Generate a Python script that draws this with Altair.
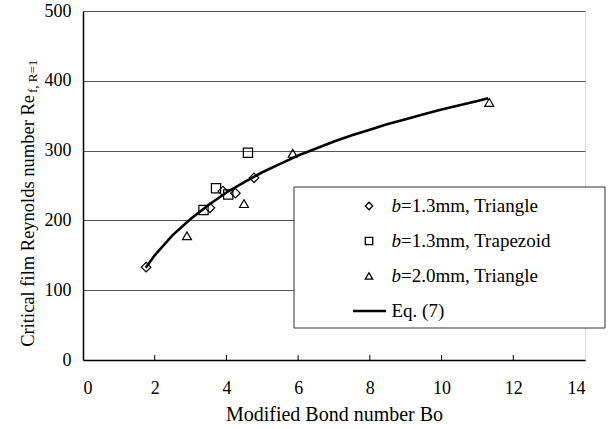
import altair as alt
import pandas as pd

# ---- data ----
tri13_x = [1.76, 3.54, 3.90, 4.25, 4.77]
tri13_y = [133, 218, 242, 239, 261]
trap_x = [3.36, 3.71, 4.05, 4.60]
trap_y = [215, 246, 237, 297]
tri20_x = [2.90, 4.49, 5.85, 11.33]
tri20_y = [178, 224, 296, 369]

eq_x = [1.75, 2.0, 2.5, 3.0, 3.5, 4.0, 4.5, 5.0, 5.5, 6.0, 6.5, 7.0, 7.5, 8.0,
        8.5, 9.0, 9.5, 10.0, 10.5, 11.0, 11.3]
eq_y = [132, 150, 179, 202, 222, 240, 255, 269, 281, 293, 303, 313, 322, 330,
        338, 345, 352, 359, 365, 371, 375]

series_names = ["b=1.3mm, Triangle", "b=1.3mm, Trapezoid", "b=2.0mm, Triangle"]
series_shapes = ["diamond", "square", "triangle-up"]
series_sizes = [90, 80, 115]
legend_rest = ["=1.3mm, Triangle", "=1.3mm, Trapezoid", "=2.0mm, Triangle"]
x_ticks = [0, 2, 4, 6, 8, 10, 12, 14]
y_ticks = [0, 100, 200, 300, 400, 500]

FONT = "Liberation Serif"

pts = pd.concat([
    pd.DataFrame({"Bo": tri13_x, "Re": tri13_y, "series": series_names[0]}),
    pd.DataFrame({"Bo": trap_x, "Re": trap_y, "series": series_names[1]}),
    pd.DataFrame({"Bo": tri20_x, "Re": tri20_y, "series": series_names[2]}),
])
eq = pd.DataFrame({"Bo": eq_x, "Re": eq_y})
one = pd.DataFrame({"a": [0]})

xscale = alt.Scale(domain=[0, 14], nice=False, zero=False)
yscale = alt.Scale(domain=[0, 500], nice=False)

xaxis = alt.Axis(values=x_ticks, title="Modified Bond number Bo", grid=False,
                 ticks=False, labelPadding=19, titlePadding=7,
                 labelFont=FONT, titleFont=FONT,
                 labelFontSize=18, titleFontSize=20, titleFontWeight="normal",
                 labelColor="black", titleColor="black",
                 domainColor="black", domainWidth=1.5)
yaxis = alt.Axis(values=y_ticks, title=None, grid=True, gridColor="#555",
                 gridWidth=1, ticks=False, labelPadding=12, labelFontSize=18,
                 labelFont=FONT, labelColor="black",
                 domainColor="black", domainWidth=1.5)

line = alt.Chart(eq).mark_line(color="black", strokeWidth=2.6).encode(
    x=alt.X("Bo:Q", scale=xscale, axis=xaxis),
    y=alt.Y("Re:Q", scale=yscale, axis=yaxis),
)

points = alt.Chart(pts).mark_point(filled=False, color="black", strokeWidth=1.2,
                                   opacity=1).encode(
    x=alt.X("Bo:Q", scale=xscale),
    y=alt.Y("Re:Q", scale=yscale),
    shape=alt.Shape("series:N", scale=alt.Scale(domain=series_names, range=series_shapes),
                    legend=None),
    size=alt.Size("series:N", scale=alt.Scale(domain=series_names, range=series_sizes),
                  legend=None),
)

xt = pd.DataFrame({"t": x_ticks[1:-1]})
inner_ticks = alt.Chart(xt).mark_rule(color="black", strokeWidth=1).encode(
    x=alt.X("t:Q", scale=xscale), y=alt.value(349), y2=alt.value(344)
)

# ---- legend box ----
layers = [line, points, inner_ticks]
box = alt.Chart(one).mark_rect(fill="white", stroke="#333", strokeWidth=1).encode(
    x=alt.value(211), x2=alt.value(522), y=alt.value(176), y2=alt.value(317)
)
layers.append(box)
row_y = [195, 230, 265, 300]
for i, shp in enumerate(series_shapes):
    layers.append(alt.Chart(one).mark_point(shape=shp, filled=False, color="black",
                                            strokeWidth=1.3, size=55, opacity=1).encode(
        x=alt.value(286), y=alt.value(row_y[i])))
    layers.append(alt.Chart(one).mark_text(text="b", font=FONT, fontSize=19,
                                           fontStyle="italic", align="left",
                                           baseline="middle", color="black").encode(
        x=alt.value(308.5), y=alt.value(row_y[i])))
    layers.append(alt.Chart(one).mark_text(text=legend_rest[i], font=FONT, fontSize=19,
                                           align="left", baseline="middle",
                                           color="black").encode(
        x=alt.value(318), y=alt.value(row_y[i])))
layers.append(alt.Chart(one).mark_rule(color="black", strokeWidth=2.6).encode(
    x=alt.value(270), x2=alt.value(303), y=alt.value(row_y[3])))
layers.append(alt.Chart(one).mark_text(text="Eq. (7)", font=FONT, fontSize=19,
                                       align="left", baseline="middle",
                                       color="black").encode(
    x=alt.value(308.5), y=alt.value(row_y[3])))

# ---- y axis title with subscript ----
layers.append(alt.Chart(one).mark_text(text="Critical film Reynolds number Re", font=FONT,
                                       fontSize=18.5, angle=270, align="right",
                                       baseline="middle", color="black").encode(
    x=alt.value(-55), y=alt.value(84)))
layers.append(alt.Chart(one).mark_text(text="f, R=1", font=FONT, fontSize=13, angle=270,
                                       align="left", baseline="middle",
                                       color="black").encode(
    x=alt.value(-50), y=alt.value(82)))

chart = alt.layer(*layers).properties(
    width=502, height=349,
    autosize=alt.AutoSizeParams(type="none"),
    padding={"left": 83, "top": 11, "right": 26, "bottom": 69},
).configure_view(stroke="black", strokeWidth=1.5).configure(background="white")

chart.save("out.html", embed_options={"renderer": "svg", "actions": False})
